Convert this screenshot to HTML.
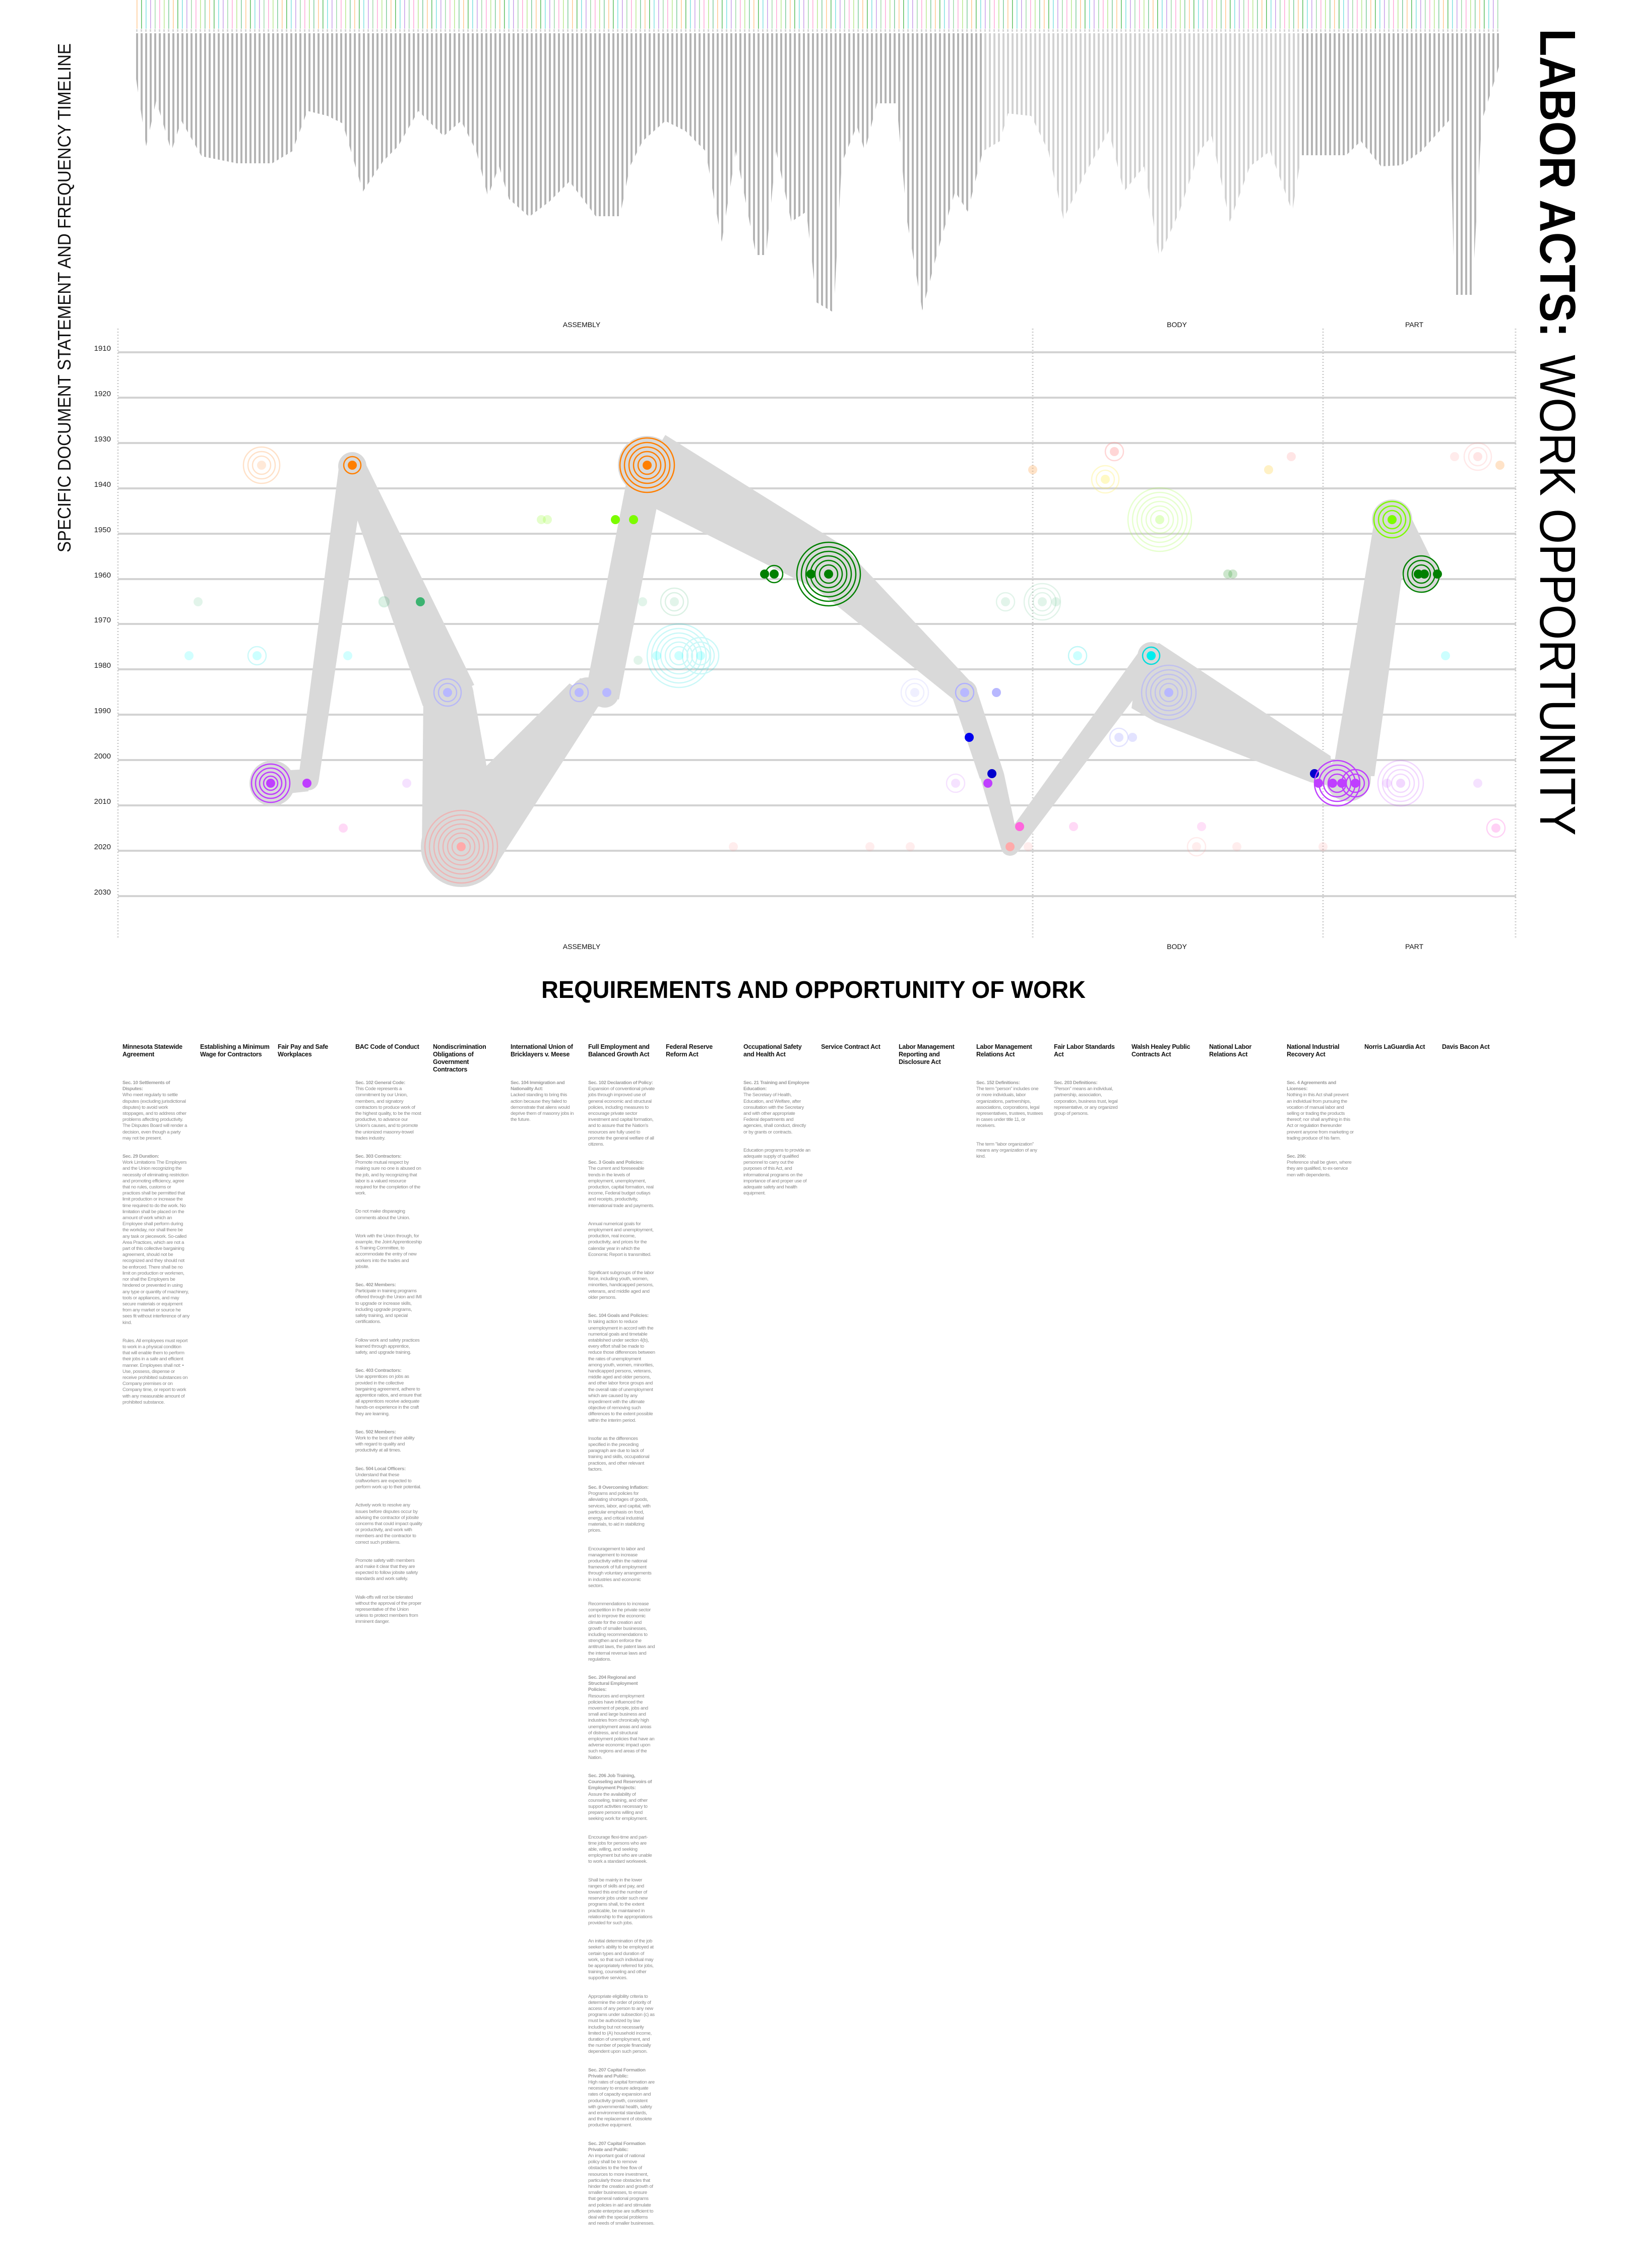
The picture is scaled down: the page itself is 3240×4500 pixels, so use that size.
<!DOCTYPE html>
<html><head><meta charset="utf-8">
<style>
html,body{margin:0;padding:0;background:#fff;}
body{width:3240px;height:4500px;position:relative;overflow:hidden;font-family:"Liberation Sans",sans-serif;}
.h{position:absolute;top:2070px;font-weight:bold;font-size:12.5px;line-height:15px;color:#111;letter-spacing:-0.25px;width:138px;}
.b{position:absolute;top:2143px;font-size:9.6px;line-height:12.2px;color:#8a8a8a;letter-spacing:-0.35px;width:133px;}
.b p{margin:0 0 24px 0;}
.b b{color:#9a9a9a;}
</style></head><body>

<svg width="3240" height="2000" style="position:absolute;left:0;top:0" xmlns="http://www.w3.org/2000/svg" font-family="Liberation Sans, sans-serif">
<defs>
<pattern id="st" width="9" height="10" patternUnits="userSpaceOnUse"><rect x="0" y="0" width="4" height="10" fill="#b4b4b4"/></pattern>
<pattern id="cl" width="72" height="60" patternUnits="userSpaceOnUse">
<rect x="1" width="1.5" height="60" fill="#7fe0e0"/><rect x="10" width="1.5" height="60" fill="#c8a0e8"/><rect x="19" width="1.5" height="60" fill="#9fd9a8"/><rect x="28" width="1.5" height="60" fill="#ffaad8"/><rect x="37" width="1.5" height="60" fill="#b8e890"/><rect x="46" width="1.5" height="60" fill="#7ecb9a"/><rect x="55" width="1.5" height="60" fill="#ffc890"/><rect x="64" width="1.5" height="60" fill="#5cbf60"/>
</pattern>
<pattern id="tk" width="9" height="10" patternUnits="userSpaceOnUse"><rect x="0" width="3" height="10" fill="#d6d6d6"/></pattern>
</defs>

<rect x="266" y="0" width="2712" height="57" fill="url(#cl)"/>
<rect x="266" y="58" width="2712" height="5" fill="url(#tk)"/>
<polygon fill="url(#st)" points="266,66 2978,66 2978,120 2940,240 2921,585 2886,585 2877,237 2820,300 2780,328 2740,330 2700,280 2671,308 2582,308 2564,420 2520,300 2480,330 2440,440 2404,270 2380,300 2340,420 2300,510 2270,330 2230,380 2200,260 2150,350 2110,435 2080,300 2046,230 2000,225 1984,280 1950,300 1920,420 1895,380 1860,500 1830,616 1800,440 1779,205 1740,205 1716,300 1700,250 1670,324 1654,620 1620,600 1600,420 1570,440 1540,300 1520,506 1500,506 1460,300 1432,480 1400,300 1360,260 1320,240 1275,280 1250,330 1230,429 1182,429 1130,360 1090,400 1050,430 1010,395 990,330 968,390 945,300 915,240 880,270 830,220 790,290 760,320 720,380 680,245 650,230 610,220 580,300 540,324 470,324 430,316 400,310 360,240 340,300 310,200 290,290 266,130"/>
<rect x="1950" y="66" width="630" height="560" fill="#fff" opacity="0.4"/>

<text transform="translate(140,1096) rotate(-90)" font-size="36" fill="#111" textLength="1010" lengthAdjust="spacingAndGlyphs">SPECIFIC DOCUMENT STATEMENT AND FREQUENCY TIMELINE</text>
<text transform="translate(3056,57) rotate(90)" font-size="100" font-weight="bold" fill="#000" textLength="612" lengthAdjust="spacingAndGlyphs">LABOR ACTS:</text>
<text transform="translate(3056,704) rotate(90)" font-size="100" fill="#000" textLength="954" lengthAdjust="spacingAndGlyphs">WORK OPPORTUNITY</text>

<g font-size="14" fill="#111" text-anchor="middle">
<text x="1154" y="649">ASSEMBLY</text><text x="2335" y="649">BODY</text><text x="2806" y="649">PART</text>
<text x="1154" y="1883">ASSEMBLY</text><text x="2335" y="1883">BODY</text><text x="2806" y="1883">PART</text>
</g>
<g font-size="15" fill="#222" text-anchor="end">
<text x="220" y="696">1910</text><text x="220" y="786">1920</text><text x="220" y="876">1930</text><text x="220" y="966">1940</text><text x="220" y="1056">1950</text><text x="220" y="1146">1960</text><text x="220" y="1235">1970</text><text x="220" y="1325">1980</text><text x="220" y="1415">1990</text><text x="220" y="1505">2000</text><text x="220" y="1595">2010</text><text x="220" y="1685">2020</text><text x="220" y="1775">2030</text>
</g>
<g stroke="#d3d3d3" stroke-width="4">
<line x1="234" x2="3008" y1="699" y2="699"/><line x1="234" x2="3008" y1="789" y2="789"/><line x1="234" x2="3008" y1="879" y2="879"/><line x1="234" x2="3008" y1="969" y2="969"/><line x1="234" x2="3008" y1="1059" y2="1059"/><line x1="234" x2="3008" y1="1149" y2="1149"/><line x1="234" x2="3008" y1="1238" y2="1238"/><line x1="234" x2="3008" y1="1328" y2="1328"/><line x1="234" x2="3008" y1="1418" y2="1418"/><line x1="234" x2="3008" y1="1508" y2="1508"/><line x1="234" x2="3008" y1="1598" y2="1598"/><line x1="234" x2="3008" y1="1688" y2="1688"/><line x1="234" x2="3008" y1="1778" y2="1778"/>
</g>
<g stroke="#c8c8c8" stroke-width="3" stroke-dasharray="2 4">
<line x1="234" x2="234" y1="652" y2="1862"/><line x1="2049" x2="2049" y1="652" y2="1862"/><line x1="2625" x2="2625" y1="652" y2="1862"/><line x1="3007" x2="3007" y1="652" y2="1862"/>
</g>

<g fill="#d9d9d9">
<circle cx="540" cy="1554" r="45"/>
<polygon points="540,1530 612,1526 612,1570 540,1578"/>
<circle cx="612" cy="1548" r="20"/>
<polygon points="592,1545 673,922 725,928 632,1551"/>
<circle cx="699" cy="925" r="28"/>
<polygon points="675,935 723,915 941,1359 839,1401"/>
<circle cx="890" cy="1380" r="50"/>
<polygon points="840,1383 940,1377 993,1675 837,1685"/>
<circle cx="915" cy="1680" r="80"/>
<polygon points="855,1629 975,1731 1190,1397 1130,1356"/>
<circle cx="1165" cy="1376" r="32"/>
<polygon points="1150,1346 1204,1346 1204,1402 1150,1402"/>
<circle cx="1200" cy="1376" r="28"/>
<polygon points="1162,1372 1228,1388 1318,931 1250,919"/>
<circle cx="1284" cy="923" r="58"/>
<polygon points="1248,983 1320,863 1673,1083 1615,1167"/>
<circle cx="1644" cy="1125" r="50"/>
<polygon points="1611,1162 1677,1088 1929,1356 1897,1392"/>
<circle cx="1913" cy="1374" r="26"/>
<polygon points="1887,1376 1939,1372 1992,1535 1944,1545"/>
<polygon points="1944,1540 1992,1535 2022,1677 1986,1683"/>
<circle cx="2004" cy="1680" r="18"/>
<polygon points="1988,1670 2020,1690 2303,1316 2265,1286"/>
<circle cx="2284" cy="1301" r="27"/>
<polygon points="2262,1285 2300,1276 2640,1500 2645,1560 2600,1552 2292,1432 2245,1405"/>
<circle cx="2675" cy="1545" r="45"/>
<polygon points="2643,1540 2727,1540 2797,1031 2727,1031"/>
<circle cx="2762" cy="1031" r="40"/>
<polygon points="2730,1047 2794,1015 2848,1125 2792,1153"/>
<circle cx="2820" cy="1139" r="36"/>
</g>

<g stroke-width="2.5" fill="none">
<g stroke="#ff8c2a" opacity="0.25"><circle cx="519" cy="923" r="18"/><circle cx="519" cy="923" r="27"/><circle cx="519" cy="923" r="36"/></g>
<circle cx="519" cy="923" r="9" fill="#ffc090" opacity="0.35" stroke="none"/>
<circle cx="699" cy="923" r="9" fill="#ff7f00" stroke="none"/><circle cx="699" cy="923" r="17" stroke="#ff7f00"/>
<g stroke="#ff7f00"><circle cx="1284" cy="923" r="18"/><circle cx="1284" cy="923" r="27"/><circle cx="1284" cy="923" r="36"/><circle cx="1284" cy="923" r="45"/><circle cx="1284" cy="923" r="54"/></g>
<circle cx="1284" cy="923" r="9" fill="#ff7f00" stroke="none"/>
<circle cx="1074" cy="1031" r="9" fill="#7cfc00" opacity="0.2" stroke="none"/><circle cx="1086" cy="1031" r="9" fill="#7cfc00" opacity="0.2" stroke="none"/>
<circle cx="1221" cy="1031" r="9" fill="#7cfc00" stroke="none"/><circle cx="1257" cy="1031" r="9" fill="#7cfc00" stroke="none"/>
<circle cx="393" cy="1194" r="9" fill="#3cb371" opacity="0.15" stroke="none"/>
<circle cx="762" cy="1194" r="9" fill="#3cb371" opacity="0.18" stroke="none"/><circle cx="762" cy="1194" r="10" stroke="#3cb371" opacity="0.2"/>
<circle cx="834" cy="1194" r="9" fill="#3cb371" stroke="none"/>
<circle cx="1275" cy="1194" r="9" fill="#3cb371" opacity="0.15" stroke="none"/>
<g stroke="#3cb371" opacity="0.18"><circle cx="1338" cy="1194" r="18"/><circle cx="1338" cy="1194" r="27"/></g><circle cx="1338" cy="1194" r="9" fill="#3cb371" opacity="0.15" stroke="none"/>
<circle cx="375" cy="1301" r="9" fill="#00ffff" opacity="0.18" stroke="none"/>
<circle cx="510" cy="1301" r="9" fill="#00ffff" opacity="0.2" stroke="none"/><circle cx="510" cy="1301" r="18" stroke="#00e0e0" opacity="0.2"/>
<circle cx="690" cy="1301" r="9" fill="#00ffff" opacity="0.18" stroke="none"/>
<g stroke="#00e0e0" opacity="0.2"><circle cx="1347" cy="1301" r="18"/><circle cx="1347" cy="1301" r="27"/><circle cx="1347" cy="1301" r="36"/><circle cx="1347" cy="1301" r="45"/><circle cx="1347" cy="1301" r="54"/><circle cx="1347" cy="1301" r="63"/><circle cx="1390" cy="1301" r="18"/><circle cx="1390" cy="1301" r="27"/><circle cx="1390" cy="1301" r="36"/></g>
<circle cx="1347" cy="1301" r="9" fill="#00ffff" opacity="0.2" stroke="none"/><circle cx="1303" cy="1301" r="9" fill="#00ffff" opacity="0.2" stroke="none"/><circle cx="1390" cy="1301" r="9" fill="#00ffff" opacity="0.2" stroke="none"/>
<circle cx="1266" cy="1310" r="9" fill="#3cb371" opacity="0.15" stroke="none"/>
<g stroke="#b0b0ff" opacity="0.8"><circle cx="888" cy="1374" r="18"/><circle cx="888" cy="1374" r="27"/><circle cx="1149" cy="1374" r="18"/></g>
<circle cx="888" cy="1374" r="9" fill="#b8b8ff" stroke="none"/><circle cx="1149" cy="1374" r="9" fill="#b8b8ff" stroke="none"/><circle cx="1204" cy="1374" r="9" fill="#b8b8ff" stroke="none"/>
<g stroke="#bf3eff"><circle cx="537" cy="1554" r="14"/><circle cx="537" cy="1554" r="22"/><circle cx="537" cy="1554" r="30"/><circle cx="537" cy="1554" r="38"/></g>
<circle cx="537" cy="1554" r="9" fill="#bf3eff" stroke="none"/><circle cx="609" cy="1554" r="9" fill="#bf3eff" stroke="none"/>
<circle cx="807" cy="1554" r="9" fill="#bf3eff" opacity="0.15" stroke="none"/>
<circle cx="681" cy="1643" r="9" fill="#ff66dd" opacity="0.25" stroke="none"/>
<g stroke="#ff9999" opacity="0.55"><circle cx="915" cy="1680" r="18"/><circle cx="915" cy="1680" r="27"/><circle cx="915" cy="1680" r="36"/><circle cx="915" cy="1680" r="45"/><circle cx="915" cy="1680" r="54"/><circle cx="915" cy="1680" r="63"/><circle cx="915" cy="1680" r="72"/></g>
<circle cx="915" cy="1680" r="9" fill="#ffaaaa" stroke="none"/>
<circle cx="1517" cy="1139" r="9" fill="#008000" stroke="none"/><circle cx="1536" cy="1139" r="9" fill="#008000" stroke="none"/><circle cx="1536" cy="1139" r="17" stroke="#008000"/>
<g stroke="#008000"><circle cx="1644" cy="1139" r="18"/><circle cx="1644" cy="1139" r="27"/><circle cx="1644" cy="1139" r="36"/><circle cx="1644" cy="1139" r="45"/><circle cx="1644" cy="1139" r="54"/><circle cx="1644" cy="1139" r="63"/></g>
<circle cx="1644" cy="1139" r="9" fill="#008000" stroke="none"/><circle cx="1609" cy="1139" r="9" fill="#008000" stroke="none"/>
<circle cx="1995" cy="1194" r="9" fill="#3cb371" opacity="0.15" stroke="none"/><circle cx="1995" cy="1194" r="18" stroke="#3cb371" opacity="0.15"/>
<g stroke="#3cb371" opacity="0.15"><circle cx="2068" cy="1194" r="18"/><circle cx="2068" cy="1194" r="27"/><circle cx="2068" cy="1194" r="36"/></g>
<circle cx="2068" cy="1194" r="9" fill="#3cb371" opacity="0.15" stroke="none"/><circle cx="2095" cy="1194" r="9" fill="#3cb371" opacity="0.15" stroke="none"/>
<g stroke="#b0b0ff" opacity="0.2"><circle cx="1815" cy="1374" r="18"/><circle cx="1815" cy="1374" r="27"/></g><circle cx="1815" cy="1374" r="9" fill="#b0b0ff" opacity="0.2" stroke="none"/>
<circle cx="1914" cy="1374" r="9" fill="#b8b8ff" stroke="none"/><circle cx="1914" cy="1374" r="18" stroke="#b0b0ff"/><circle cx="1977" cy="1374" r="9" fill="#b8b8ff" stroke="none"/>
<circle cx="1923" cy="1463" r="9" fill="#0000ee" stroke="none"/><circle cx="1968" cy="1535" r="9" fill="#0000cc" stroke="none"/><circle cx="1960" cy="1554" r="9" fill="#bf3eff" stroke="none"/>
<circle cx="1896" cy="1554" r="9" fill="#bf3eff" opacity="0.15" stroke="none"/><circle cx="1896" cy="1554" r="18" stroke="#bf3eff" opacity="0.15"/>
<circle cx="2023" cy="1640" r="9" fill="#ff66dd" stroke="none"/><circle cx="2130" cy="1640" r="9" fill="#ff66dd" opacity="0.25" stroke="none"/><circle cx="2384" cy="1640" r="9" fill="#ff66dd" opacity="0.2" stroke="none"/>
<g fill="#ff9999" opacity="0.18" stroke="none"><circle cx="1455" cy="1680" r="9"/><circle cx="1726" cy="1680" r="9"/><circle cx="1806" cy="1680" r="9"/><circle cx="2040" cy="1680" r="9"/><circle cx="2374" cy="1680" r="9"/><circle cx="2454" cy="1680" r="9"/><circle cx="2625" cy="1680" r="9"/></g>
<circle cx="2004" cy="1680" r="9" fill="#ffaaaa" stroke="none"/><circle cx="2374" cy="1680" r="18" stroke="#ff9999" opacity="0.2"/>
<circle cx="2211" cy="896" r="9" fill="#ff9999" opacity="0.4" stroke="none"/><circle cx="2211" cy="896" r="18" stroke="#ff9999" opacity="0.4"/>
<circle cx="2562" cy="906" r="9" fill="#ff9999" opacity="0.25" stroke="none"/><circle cx="2886" cy="906" r="9" fill="#ff9999" opacity="0.2" stroke="none"/>
<circle cx="2932" cy="906" r="9" fill="#ff9999" opacity="0.25" stroke="none"/><g stroke="#ff9999" opacity="0.22"><circle cx="2932" cy="906" r="18"/><circle cx="2932" cy="906" r="27"/></g>
<circle cx="2976" cy="923" r="9" fill="#ffb060" opacity="0.35" stroke="none"/><circle cx="2049" cy="932" r="9" fill="#ffb060" opacity="0.35" stroke="none"/>
<circle cx="2517" cy="932" r="9" fill="#ffd040" opacity="0.3" stroke="none"/>
<circle cx="2193" cy="951" r="9" fill="#ffee55" opacity="0.35" stroke="none"/><g stroke="#ffee55" opacity="0.3"><circle cx="2193" cy="951" r="18"/><circle cx="2193" cy="951" r="27"/></g>
<g stroke="#a0ff40" opacity="0.25"><circle cx="2301" cy="1031" r="18"/><circle cx="2301" cy="1031" r="27"/><circle cx="2301" cy="1031" r="36"/><circle cx="2301" cy="1031" r="45"/><circle cx="2301" cy="1031" r="54"/><circle cx="2301" cy="1031" r="63"/></g>
<circle cx="2301" cy="1031" r="9" fill="#a0ff40" opacity="0.3" stroke="none"/>
<circle cx="2436" cy="1139" r="9" fill="#008000" opacity="0.2" stroke="none"/><circle cx="2446" cy="1139" r="9" fill="#008000" opacity="0.2" stroke="none"/>
<circle cx="2138" cy="1301" r="9" fill="#00ffff" opacity="0.2" stroke="none"/><circle cx="2138" cy="1301" r="18" stroke="#00e0e0" opacity="0.25"/>
<circle cx="2284" cy="1301" r="9" fill="#00eeee" stroke="none"/><circle cx="2284" cy="1301" r="17" stroke="#00dddd"/>
<circle cx="2868" cy="1301" r="9" fill="#00ffff" opacity="0.2" stroke="none"/>
<g stroke="#b0b0ff" opacity="0.6"><circle cx="2319" cy="1374" r="18"/><circle cx="2319" cy="1374" r="27"/><circle cx="2319" cy="1374" r="36"/><circle cx="2319" cy="1374" r="45"/><circle cx="2319" cy="1374" r="54"/></g>
<circle cx="2319" cy="1374" r="9" fill="#b8b8ff" stroke="none"/>
<circle cx="2220" cy="1463" r="9" fill="#b0b0ff" opacity="0.35" stroke="none"/><circle cx="2220" cy="1463" r="18" stroke="#b0b0ff" opacity="0.35"/><circle cx="2247" cy="1463" r="9" fill="#b0b0ff" opacity="0.35" stroke="none"/>
<circle cx="2608" cy="1535" r="9" fill="#0000cc" stroke="none"/>
<g stroke="#bf3eff"><circle cx="2653" cy="1554" r="18"/><circle cx="2653" cy="1554" r="27"/><circle cx="2653" cy="1554" r="36"/><circle cx="2653" cy="1554" r="45"/><circle cx="2689" cy="1554" r="18"/><circle cx="2689" cy="1554" r="27"/></g>
<g fill="#bf3eff" stroke="none"><circle cx="2616" cy="1554" r="9"/><circle cx="2644" cy="1554" r="9"/><circle cx="2662" cy="1554" r="9"/><circle cx="2689" cy="1554" r="9"/></g>
<g stroke="#bf3eff" opacity="0.2"><circle cx="2779" cy="1554" r="18"/><circle cx="2779" cy="1554" r="27"/><circle cx="2779" cy="1554" r="36"/><circle cx="2779" cy="1554" r="45"/></g>
<circle cx="2779" cy="1554" r="9" fill="#bf3eff" opacity="0.2" stroke="none"/><circle cx="2752" cy="1554" r="9" fill="#bf3eff" opacity="0.15" stroke="none"/><circle cx="2932" cy="1554" r="9" fill="#bf3eff" opacity="0.15" stroke="none"/>
<circle cx="2968" cy="1643" r="9" fill="#ff66dd" opacity="0.3" stroke="none"/><circle cx="2968" cy="1643" r="18" stroke="#ff66dd" opacity="0.3"/>
<g stroke="#7cfc00"><circle cx="2762" cy="1031" r="18"/><circle cx="2762" cy="1031" r="27"/><circle cx="2762" cy="1031" r="36"/></g>
<circle cx="2762" cy="1031" r="9" fill="#7cfc00" stroke="none"/>
<g stroke="#008000"><circle cx="2820" cy="1139" r="18"/><circle cx="2820" cy="1139" r="27"/><circle cx="2820" cy="1139" r="36"/></g>
<g fill="#008000" stroke="none"><circle cx="2814" cy="1139" r="9"/><circle cx="2826" cy="1139" r="9"/><circle cx="2852" cy="1139" r="9"/></g>
</g>

<text x="1614" y="1980" font-size="48" font-weight="bold" fill="#000" text-anchor="middle" textLength="1080" lengthAdjust="spacingAndGlyphs">REQUIREMENTS AND OPPORTUNITY OF WORK</text>
</svg>

<div class="h" style="left:243px">Minnesota Statewide Agreement</div>
<div class="h" style="left:397px">Establishing a Minimum Wage for Contractors</div>
<div class="h" style="left:551px">Fair Pay and Safe Workplaces</div>
<div class="h" style="left:705px">BAC Code of Conduct</div>
<div class="h" style="left:859px">Nondiscrimination Obligations of Government Contractors</div>
<div class="h" style="left:1013px">International Union of Bricklayers v. Meese</div>
<div class="h" style="left:1167px">Full Employment and Balanced Growth Act</div>
<div class="h" style="left:1321px">Federal Reserve Reform Act</div>
<div class="h" style="left:1475px">Occupational Safety and Health Act</div>
<div class="h" style="left:1629px">Service Contract Act</div>
<div class="h" style="left:1783px">Labor Management Reporting and Disclosure Act</div>
<div class="h" style="left:1937px">Labor Management Relations Act</div>
<div class="h" style="left:2091px">Fair Labor Standards Act</div>
<div class="h" style="left:2245px">Walsh Healey Public Contracts Act</div>
<div class="h" style="left:2399px">National Labor Relations Act</div>
<div class="h" style="left:2553px">National Industrial Recovery Act</div>
<div class="h" style="left:2707px">Norris LaGuardia Act</div>
<div class="h" style="left:2861px">Davis Bacon Act</div>

<div class="b" style="left:243px">
<p><b>Sec. 10 Settlements of Disputes:</b><br>Who meet regularly to settle disputes (excluding jurisdictional disputes) to avoid work stoppages, and to address other problems affecting productivity. The Disputes Board will render a decision, even though a party may not be present.</p>
<p><b>Sec. 29 Duration:</b><br>Work Limitations The Employers and the Union recognizing the necessity of eliminating restriction and promoting efficiency, agree that no rules, customs or practices shall be permitted that limit production or increase the time required to do the work. No limitation shall be placed on the amount of work which an Employee shall perform during the workday, nor shall there be any task or piecework. So-called Area Practices, which are not a part of this collective bargaining agreement, should not be recognized and they should not be enforced. There shall be no limit on production or workmen, nor shall the Employers be hindered or prevented in using any type or quantity of machinery, tools or appliances, and may secure materials or equipment from any market or source he sees fit without interference of any kind.</p>
<p>Rules. All employees must report to work in a physical condition that will enable them to perform their jobs in a safe and efficient manner. Employees shall not: • Use, possess, dispense or receive prohibited substances on Company premises or on Company time, or report to work with any measurable amount of prohibited substance.</p>
</div>

<div class="b" style="left:705px">
<p><b>Sec. 102 General Code:</b><br>This Code represents a commitment by our Union, members, and signatory contractors to produce work of the highest quality, to be the most productive, to advance our Union's causes, and to promote the unionized masonry-trowel trades industry.</p>
<p><b>Sec. 303 Contractors:</b><br>Promote mutual respect by making sure no one is abused on the job, and by recognizing that labor is a valued resource required for the completion of the work.</p>
<p>Do not make disparaging comments about the Union.</p>
<p>Work with the Union through, for example, the Joint Apprenticeship &amp; Training Committee, to accommodate the entry of new workers into the trades and jobsite.</p>
<p><b>Sec. 402 Members:</b><br>Participate in training programs offered through the Union and IMI to upgrade or increase skills, including upgrade programs, safety training, and special certifications.</p>
<p>Follow work and safety practices learned through apprentice, safety, and upgrade training.</p>
<p><b>Sec. 403 Contractors:</b><br>Use apprentices on jobs as provided in the collective bargaining agreement, adhere to apprentice ratios, and ensure that all apprentices receive adequate hands-on experience in the craft they are learning.</p>
<p><b>Sec. 502 Members:</b><br>Work to the best of their ability with regard to quality and productivity at all times.</p>
<p><b>Sec. 504 Local Officers:</b><br>Understand that these craftworkers are expected to perform work up to their potential.</p>
<p>Actively work to resolve any issues before disputes occur by advising the contractor of jobsite concerns that could impact quality or productivity, and work with members and the contractor to correct such problems.</p>
<p>Promote safety with members and make it clear that they are expected to follow jobsite safety standards and work safely.</p>
<p>Walk-offs will not be tolerated without the approval of the proper representative of the Union unless to protect members from imminent danger.</p>
</div>

<div class="b" style="left:1013px">
<p><b>Sec. 104 Immigration and Nationality Act:</b><br>Lacked standing to bring this action because they failed to demonstrate that aliens would deprive them of masonry jobs in the future.</p>
</div>

<div class="b" style="left:1167px">
<p><b>Sec. 102 Declaration of Policy:</b><br>Expansion of conventional private jobs through improved use of general economic and structural policies, including measures to encourage private sector investment and capital formation, and to assure that the Nation's resources are fully used to promote the general welfare of all citizens.</p>
<p><b>Sec. 3 Goals and Policies:</b><br>The current and foreseeable trends in the levels of employment, unemployment, production, capital formation, real income, Federal budget outlays and receipts, productivity, international trade and payments.</p>
<p>Annual numerical goals for employment and unemployment, production, real income, productivity, and prices for the calendar year in which the Economic Report is transmitted.</p>
<p>Significant subgroups of the labor force, including youth, women, minorities, handicapped persons, veterans, and middle aged and older persons.</p>
<p><b>Sec. 104 Goals and Policies:</b><br>In taking action to reduce unemployment in accord with the numerical goals and timetable established under section 4(b), every effort shall be made to reduce those differences between the rates of unemployment among youth, women, minorities, handicapped persons, veterans, middle aged and older persons, and other labor force groups and the overall rate of unemployment which are caused by any impediment with the ultimate objective of removing such differences to the extent possible within the interim period.</p>
<p>Insofar as the differences specified in the preceding paragraph are due to lack of training and skills, occupational practices, and other relevant factors.</p>
<p><b>Sec. 8 Overcoming Inflation:</b><br>Programs and policies for alleviating shortages of goods, services, labor, and capital, with particular emphasis on food, energy, and critical industrial materials, to aid in stabilizing prices.</p>
<p>Encouragement to labor and management to increase productivity within the national framework of full employment through voluntary arrangements in industries and economic sectors.</p>
<p>Recommendations to increase competition in the private sector and to improve the economic climate for the creation and growth of smaller businesses, including recommendations to strengthen and enforce the antitrust laws, the patent laws and the internal revenue laws and regulations.</p>
<p><b>Sec. 204 Regional and Structural Employment Policies:</b><br>Resources and employment policies have influenced the movement of people, jobs and small and large business and industries from chronically high unemployment areas and areas of distress, and structural employment policies that have an adverse economic impact upon such regions and areas of the Nation.</p>
<p><b>Sec. 206 Job Training, Counseling and Reservoirs of Employment Projects:</b><br>Assure the availability of counseling, training, and other support activities necessary to prepare persons willing and seeking work for employment.</p>
<p>Encourage flexi-time and part-time jobs for persons who are able, willing, and seeking employment but who are unable to work a standard workweek.</p>
<p>Shall be mainly in the lower ranges of skills and pay, and toward this end the number of reservoir jobs under such new programs shall, to the extent practicable, be maintained in relationship to the appropriations provided for such jobs.</p>
<p>An initial determination of the job seeker's ability to be employed at certain types and duration of work, so that such individual may be appropriately referred for jobs, training, counseling and other supportive services.</p>
<p>Appropriate eligibility criteria to determine the order of priority of access of any person to any new programs under subsection (c) as must be authorized by law including but not necessarily limited to (A) household income, duration of unemployment, and the number of people financially dependent upon such person.</p>
<p><b>Sec. 207 Capital Formation Private and Public:</b><br>High rates of capital formation are necessary to ensure adequate rates of capacity expansion and productivity growth, consistent with governmental health, safety and environmental standards, and the replacement of obsolete productive equipment.</p>
<p><b>Sec. 207 Capital Formation Private and Public:</b><br>An important goal of national policy shall be to remove obstacles to the free flow of resources to more investment, particularly those obstacles that hinder the creation and growth of smaller businesses, to ensure that general national programs and policies in aid and stimulate private enterprise are sufficient to deal with the special problems and needs of smaller businesses.</p>
</div>

<div class="b" style="left:1475px">
<p><b>Sec. 21 Training and Employee Education:</b><br>The Secretary of Health, Education, and Welfare, after consultation with the Secretary and with other appropriate Federal departments and agencies, shall conduct, directly or by grants or contracts.</p>
<p>Education programs to provide an adequate supply of qualified personnel to carry out the purposes of this Act, and informational programs on the importance of and proper use of adequate safety and health equipment.</p>
</div>

<div class="b" style="left:1937px">
<p><b>Sec. 152 Definitions:</b><br>The term "person" includes one or more individuals, labor organizations, partnerships, associations, corporations, legal representatives, trustees, trustees in cases under title 11, or receivers.</p>
<p>The term "labor organization" means any organization of any kind.</p>
</div>

<div class="b" style="left:2091px">
<p><b>Sec. 203 Definitions:</b><br>"Person" means an individual, partnership, association, corporation, business trust, legal representative, or any organized group of persons.</p>
</div>

<div class="b" style="left:2553px">
<p><b>Sec. 4 Agreements and Licenses:</b><br>Nothing in this Act shall prevent an individual from pursuing the vocation of manual labor and selling or trading the products thereof; nor shall anything in this Act or regulation thereunder prevent anyone from marketing or trading produce of his farm.</p>
<p><b>Sec. 206:</b><br>Preference shall be given, where they are qualified, to ex-service men with dependents.</p>
</div>

</body></html>
